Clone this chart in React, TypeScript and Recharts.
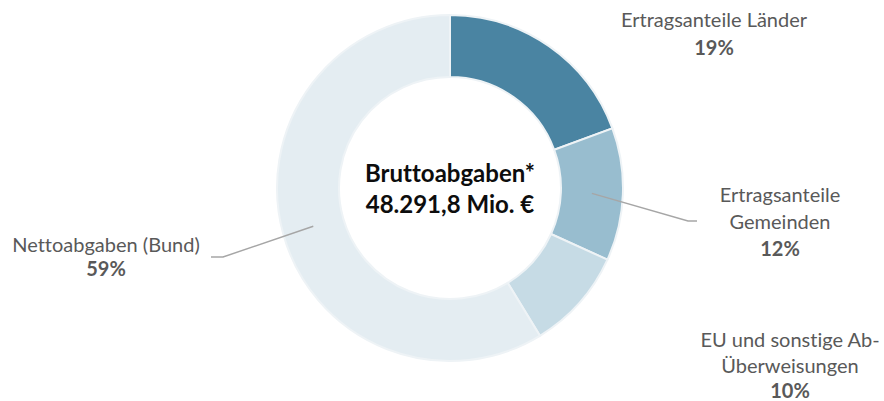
import React from 'react';
import { PieChart, Pie, Cell, Label } from 'recharts';

const categories = ['Ertragsanteile Länder', 'Ertragsanteile Gemeinden', 'EU und sonstige Ab-Überweisungen', 'Nettoabgaben (Bund)'];
const shares = [19.4, 12.4, 9.5, 58.7];
const labelLines = [
  ['Ertragsanteile Länder'],
  ['Ertragsanteile', 'Gemeinden'],
  ['EU und sonstige Ab-', 'Überweisungen'],
  ['Nettoabgaben (Bund)'],
];
const totalTitle = 'Bruttoabgaben*';
const totalValue = '48.291,8 Mio. €';

const colors = ['#4a84a2', '#98bdcf', '#c6dbe5', '#e4edf2'];

// label placement relative to the pie centre (text centre x, first baseline y, optional leader elbow)
const layout = [
  { dx: 264, dy: -161, lh: 28, elbow: null },
  { dx: 330, dy: 14, lh: 27, elbow: { x: 238, y: 33, end: 247 } },
  { dx: 340, dy: 159, lh: 25.5, elbow: null },
  { dx: -344, dy: 64, lh: 24, elbow: { x: -227, y: 69, end: -239 } },
] as const;

const data = categories.map((name, i) => ({ name, value: shares[i] }));
const total = shares.reduce((a, b) => a + b, 0);

const FONT = 'Lato, "Open Sans", sans-serif';
const RAD = Math.PI / 180;
const noLig = { fontVariantLigatures: 'none' as const };

function renderLabel(props: any) {
  const { cx, cy, midAngle, innerRadius, outerRadius, index, value } = props;
  const l = layout[index];
  const lines = labelLines[index];
  const pct = `${Math.round((value / total) * 100)}%`;
  const tx = cx + l.dx;
  const ty = cy + l.dy;
  let leader = null;
  if (l.elbow) {
    const r = (innerRadius + outerRadius) / 2;
    const sx = cx + r * Math.cos(-midAngle * RAD);
    const sy = cy + r * Math.sin(-midAngle * RAD);
    leader = (
      <polyline
        points={`${sx},${sy} ${cx + l.elbow.x},${cy + l.elbow.y} ${cx + l.elbow.end},${cy + l.elbow.y}`}
        fill="none"
        stroke="#a6a6a6"
        strokeWidth={1.5}
      />
    );
  }
  return (
    <g key={`lbl-${index}`}>
      {leader}
      <text x={tx} y={ty} textAnchor="middle" fontFamily={FONT} fontSize={20} fill="#595959" style={noLig}>
        {lines.map((t, i) => (
          <tspan key={i} x={tx} y={ty + i * l.lh}>{t}</tspan>
        ))}
        <tspan x={tx} y={ty + lines.length * l.lh} fontWeight="bold">{pct}</tspan>
      </text>
    </g>
  );
}

function CenterText(props: any) {
  const vb = props.viewBox || {};
  const cx = vb.cx ?? 450;
  const cy = vb.cy ?? 188;
  return (
    <text textAnchor="middle" fontFamily={FONT} fontSize={24} fontWeight="bold" fill="#0d0d0d" style={noLig}>
      <tspan x={cx} y={cy - 6}>{totalTitle}</tspan>
      <tspan x={cx} y={cy + 25}>{totalValue}</tspan>
    </text>
  );
}

export default function App() {
  return (
    <div style={{ position: 'absolute', left: 0, top: 0, background: '#fff' }}>
      <PieChart width={884} height={401} margin={{ top: 0, right: 0, bottom: 0, left: 0 }}>
        <Pie
          data={data}
          dataKey="value"
          nameKey="name"
          cx={450}
          cy={188}
          innerRadius={111}
          outerRadius={173}
          startAngle={90}
          endAngle={-270}
          stroke="#eef3f6"
          strokeWidth={2}
          labelLine={false}
          label={renderLabel}
          isAnimationActive={false}
        >
          {data.map((d, i) => (
            <Cell key={`cell-${i}`} fill={colors[i]} />
          ))}
          <Label position="center" content={<CenterText />} />
        </Pie>
      </PieChart>
    </div>
  );
}
